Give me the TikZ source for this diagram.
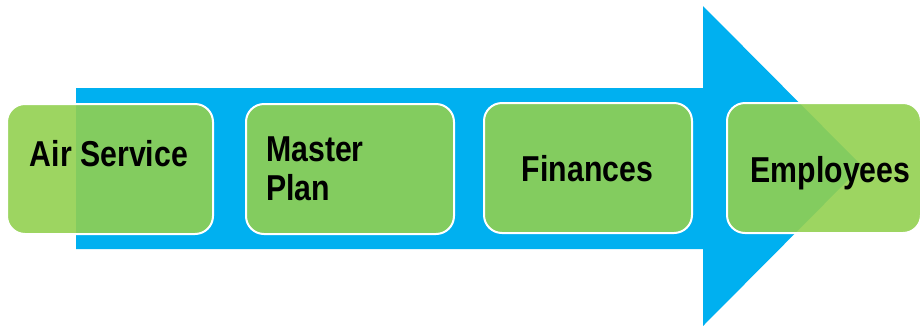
\documentclass[tikz,border=0pt]{standalone}
\usepackage{fontspec}
\setmainfont{Liberation Sans}[FakeStretch=0.84]
\definecolor{arrowblue}{HTML}{00B0F0}
\definecolor{boxgreen}{HTML}{92D050}
\begin{document}
\begin{tikzpicture}[x=1pt,y=-1pt,
  stagebox/.style={draw=white, line width=2pt, fill=boxgreen, fill opacity=0.9,
    rounded corners=18pt, minimum height=130pt, inner sep=0pt},
  stagetext/.style={inner sep=0pt, font=\fontsize{36}{39}\selectfont\bfseries, text=black}]
\useasboundingbox (0,0) rectangle (922,325);
% big arrow
\fill[arrowblue] (76,88) -- (703,88) -- (703,6) -- (862,166) -- (703,326) -- (703,249) -- (76,249) -- cycle;
% boxes
\node[stagebox, minimum width=206pt] (b1) at (110,169) {};
\node[stagebox, minimum width=208pt] (b2) at (350,169) {};
\node[stagebox, minimum width=208pt] (b3) at (588,168) {};
\node[stagebox, minimum width=194pt] (b4) at (824,168) {};
% texts
\node[stagetext, anchor=base] (t1) at (109,166) {Air Service};
\node[stagetext, anchor=north west, align=left] (t2) at (266,137) {Master\\Plan};
\node[stagetext, anchor=base] (t3) at (587.5,181) {Finances};
\node[stagetext, anchor=base] (t4) at (830.5,182) {Employees};
\end{tikzpicture}
\end{document}
